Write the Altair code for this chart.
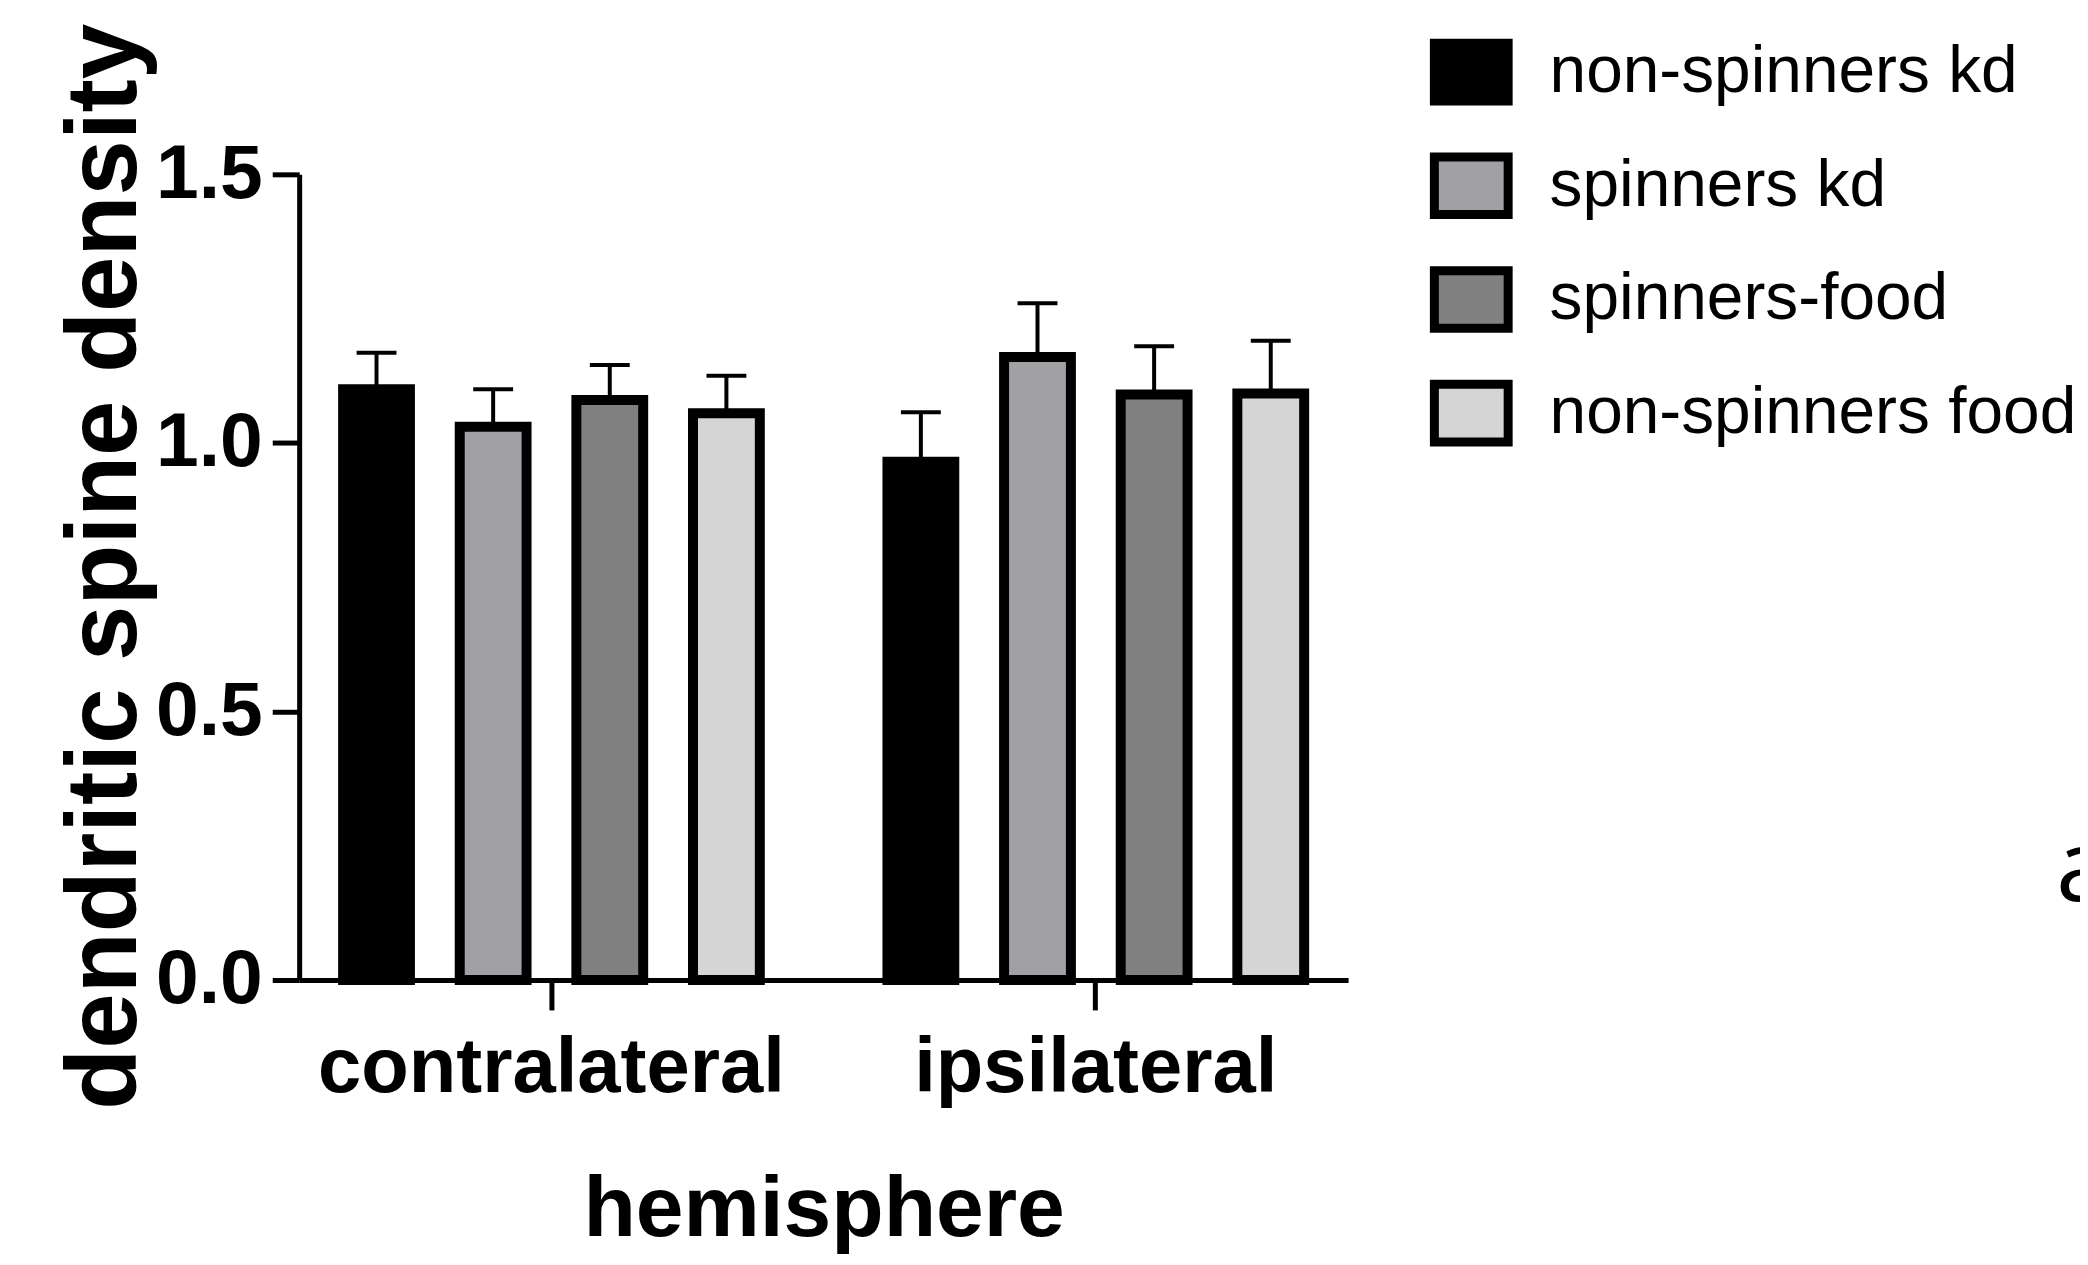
import altair as alt
import pandas as pd

groups = ["contralateral", "ipsilateral"]
series = ["non-spinners kd", "spinners kd", "spinners-food", "non-spinners food"]
colors = ["#000000", "#a1a1a5", "#808080", "#d5d5d5"]
contra_mean = [1.10, 1.03, 1.08, 1.055]
ipsi_mean = [0.965, 1.16, 1.09, 1.092]
contra_upper = [1.168, 1.10, 1.145, 1.125]
ipsi_upper = [1.057, 1.26, 1.18, 1.19]
y_ticks = [0.0, 0.5, 1.0, 1.5]

rows = []
for g, means, ups in [(groups[0], contra_mean, contra_upper), (groups[1], ipsi_mean, ipsi_upper)]:
    for s, m, u in zip(series, means, ups):
        rows.append({"hemisphere": g, "group": s, "mean": m, "upper": u})
df = pd.DataFrame(rows)

SANS = "Liberation Sans, Arial, Helvetica, sans-serif"

W, H = 1052, 808

x_enc = alt.X(
    "hemisphere:N", sort=groups,
    scale=alt.Scale(paddingInner=0.143, paddingOuter=0.035),
    axis=alt.Axis(
        title="hemisphere", labelAngle=0, domainColor="black", domainWidth=5,
        tickColor="black", tickWidth=5, tickSize=30,
        labelFont=SANS, labelFontWeight="bold", labelFontSize=78, labelColor="black",
        labelPadding=20, labelLimit=2000,
        titleFont=SANS, titleFontWeight="bold", titleFontSize=86, titleColor="black",
        titleBaseline="alphabetic", titleAlign="center", titleX=W / 2, titleY=256,
    ),
)
xoff = alt.XOffset("group:N", sort=series,
                   scale=alt.Scale(paddingInner=0.427, paddingOuter=0.2135))
y_enc = alt.Y(
    "mean:Q", scale=alt.Scale(domain=[0, 1.5], nice=False),
    axis=alt.Axis(
        title="dendritic spine density", values=y_ticks, format=".1f", grid=False,
        domainColor="black", domainWidth=5, tickColor="black", tickWidth=5, tickSize=27,
        labelFont=SANS, labelFontWeight="bold", labelFontSize=77, labelColor="black",
        labelPadding=10,
        titleFont=SANS, titleFontWeight="bold", titleFontSize=100, titleColor="black",
        titleAngle=270, titleBaseline="bottom", titleAlign="center",
        titleX=-143, titleY=393,
    ),
)
color = alt.Color(
    "group:N", sort=series,
    scale=alt.Scale(domain=series, range=colors),
    legend=alt.Legend(
        title=None, orient="none", legendX=1134, legendY=-144, padding=0,
        symbolType="M-1,-0.78H1V0.78H-1Z", symbolSize=5476,
        symbolStrokeColor="black", symbolStrokeWidth=9, symbolOpacity=1,
        labelFont=SANS, labelFontSize=66, labelColor="black", labelOffset=37,
        labelLimit=2000, rowPadding=19,
    ),
)

base = alt.Chart(df)
bars = base.mark_bar(stroke="black", strokeWidth=10, opacity=1).encode(
    x=x_enc, xOffset=xoff, y=y_enc, color=color
)
rules = base.mark_rule(color="black", strokeWidth=4).encode(
    x=alt.X("hemisphere:N", sort=groups), xOffset=alt.XOffset("group:N", sort=series),
    y="mean:Q", y2="upper:Q"
)
caps = base.mark_tick(color="black", thickness=4, size=40, opacity=1).encode(
    x=alt.X("hemisphere:N", sort=groups), xOffset=alt.XOffset("group:N", sort=series),
    y="upper:Q"
)
panel = alt.Chart(pd.DataFrame({"t": ["a"]})).mark_text(
    font="Open Sans", fontSize=100, align="left", baseline="alphabetic", color="black"
).encode(x=alt.value(2062 - 300), y=alt.value(902 - 173), text="t:N")

chart = alt.layer(bars, rules, caps, panel).properties(
    width=W, height=H,
    autosize=alt.AutoSizeParams(type="none"),
    padding={"left": 292, "top": 165, "right": 734, "bottom": 276},
).configure_view(stroke=None)

chart.save("out.html", embed_options={"renderer": "svg", "actions": False})
